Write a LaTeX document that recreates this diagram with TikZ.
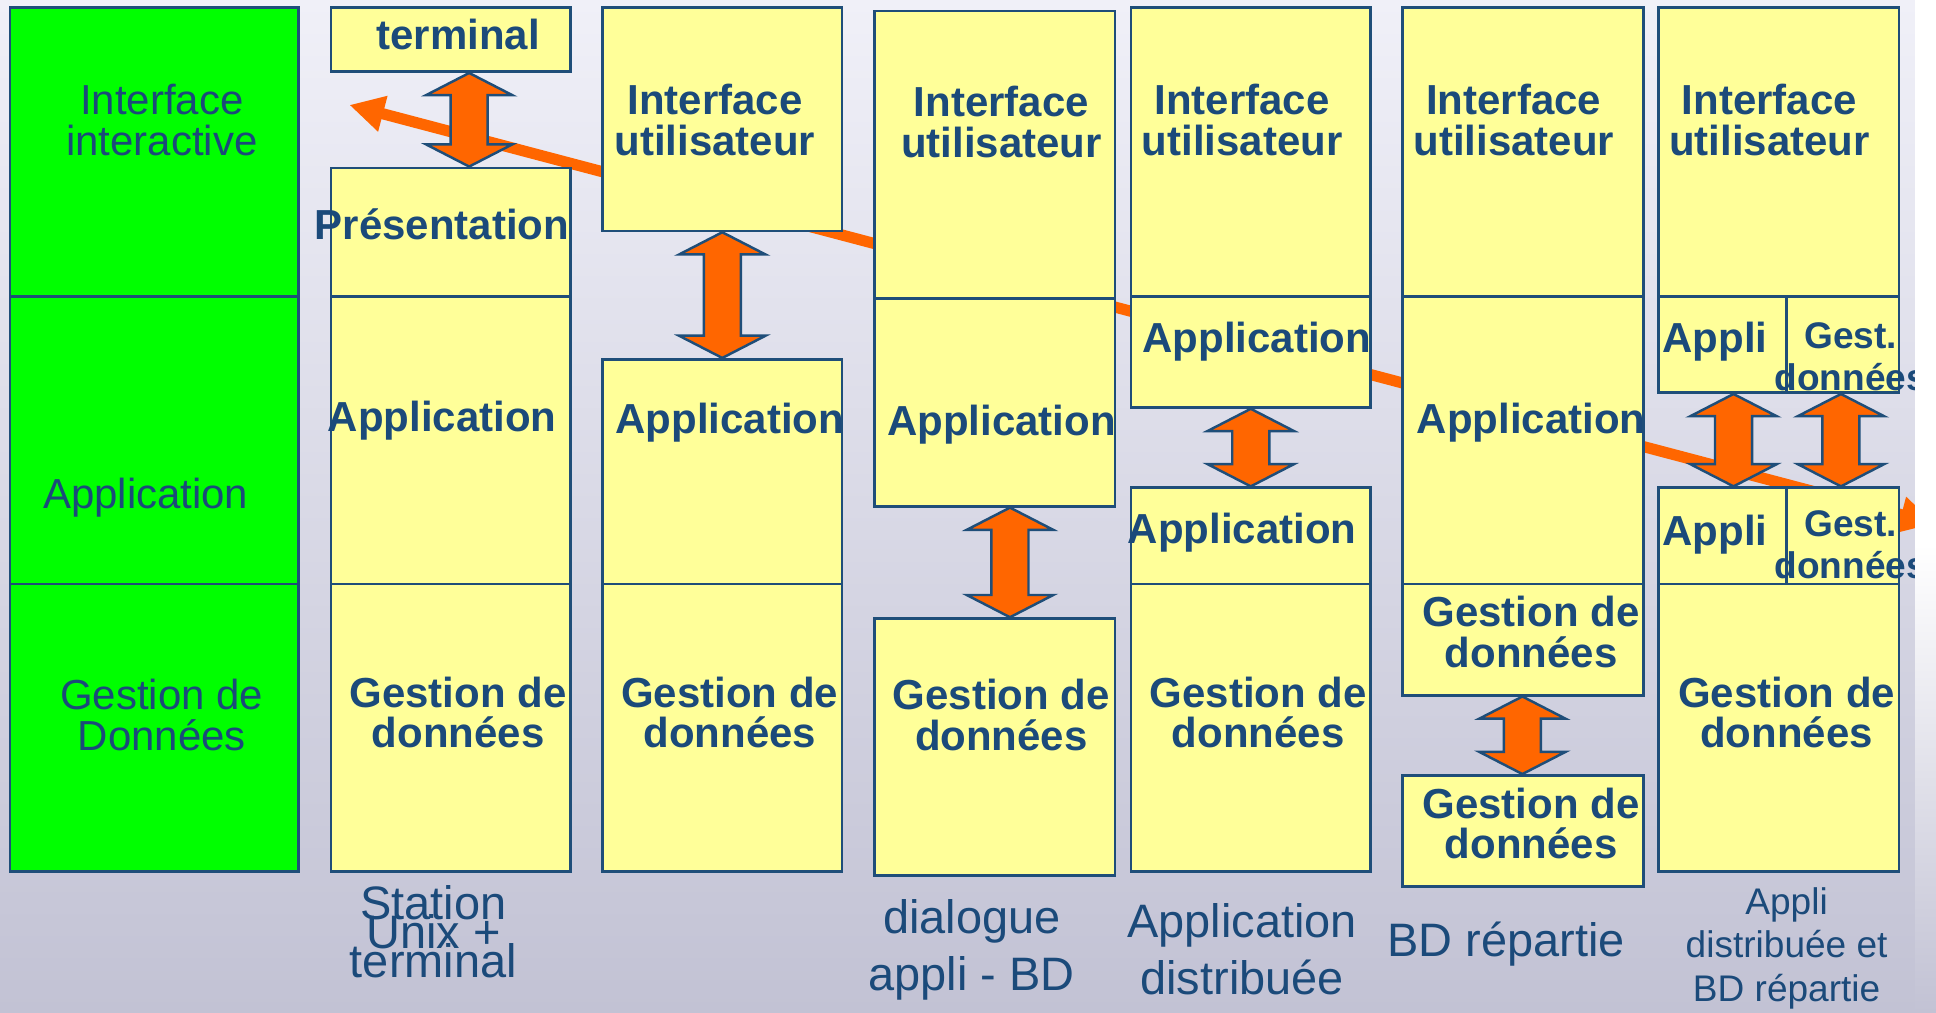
\documentclass[tikz,border=0pt]{standalone}
\usepackage{fontspec}
\setmainfont{Liberation Sans}
\usetikzlibrary{arrows.meta,fit,calc}

\definecolor{navy}{RGB}{27,74,122}
\definecolor{edge}{RGB}{31,78,121}
\definecolor{pale}{RGB}{255,255,153}
\definecolor{vivid}{RGB}{0,255,0}
\definecolor{flame}{RGB}{255,102,0}
\definecolor{bgtop}{RGB}{240,240,248}
\definecolor{bgbot}{RGB}{194,194,212}

% vertical double block arrow between two anchors, at abscissa #1
\newcommand{\vbiarrow}[3]{%
  \draw[biarrow] let \p1=(#2), \p2=(#3) in
    (#1pt,\y1) -- ({#1pt+35pt},{\y1-18pt}) -- ({#1pt+15pt},{\y1-18pt})
    -- ({#1pt+15pt},{\y2+18pt}) -- ({#1pt+35pt},{\y2+18pt}) -- (#1pt,\y2)
    -- ({#1pt-35pt},{\y2+18pt}) -- ({#1pt-15pt},{\y2+18pt})
    -- ({#1pt-15pt},{\y1-18pt}) -- ({#1pt-35pt},{\y1-18pt}) -- cycle;}

% lines allowed to overlap each other
\newcommand{\squeezedlines}{\fontsize{38}{23.5}\selectfont
  \lineskiplimit=-100pt\relax\lineskip=0pt\relax}

\tikzset{
  layer/.style={draw=edge, line width=2.2pt, fill=pale, inner sep=0pt},
  tier/.style={draw=edge, line width=2.2pt, fill=vivid, inner sep=0pt},
  biarrow/.style={draw=edge, line width=2pt, fill=flame, line join=miter},
  bold/.style={text=navy, inner sep=0pt, align=center,
    font=\bfseries\fontsize{34}{33}\selectfont},
  plain/.style={text=navy, inner sep=0pt, align=center,
    font=\fontsize{34}{33}\selectfont},
  small/.style={text=navy, inner sep=0pt, align=center,
    font=\bfseries\fontsize{30}{34}\selectfont},
  caption/.style={text=navy, inner sep=0pt, align=center,
    font=\fontsize{38}{46}\selectfont},
  tight/.style={text=navy, inner sep=0pt, align=center,
    font=\squeezedlines},
  note/.style={text=navy, inner sep=0pt, align=center,
    font=\fontsize{30}{35.5}\selectfont},
  flow/.style={draw=flame, line width=9pt,
    {Triangle[width=28pt,length=28pt]}-{Triangle[width=28pt,length=28pt]}}
}

\begin{document}
\begin{tikzpicture}[x=1pt,y=-1pt]
\useasboundingbox (0,0) rectangle (1568,820);
\fill[top color=bgtop, bottom color=bgbot] (0,0) rectangle (1568,820);

\begin{scope}
\clip (0,0) rectangle (1551,820);

% long two-headed arrow running behind the stacks
\coordinate (flowL) at (283,85);
\coordinate (flowR) at (1567,424);
\draw[flow] (flowR) -- (flowL);

% generic three tiers
\node[tier, fit={(8,6) (242,240)}] (g1) {};
\node[tier, fit={(8,240) (242,473)}] (g2) {};
\node[tier, fit={(8,473) (242,706)}] (g3) {};
\node[plain] (g1t) at (131,97) {Interface\\interactive};
\node[plain] (g2t) at (118,403) {Application};
\node[plain] (g3t) at (131,579) {Gestion de\\Donn\'ees};

% Unix station + terminal
\node[layer, fit={(268,6) (462,58)}] (a0) {};
\node[layer, fit={(268,136) (462,240)}] (a1) {};
\node[layer, fit={(268,240) (462,473)}] (a2) {};
\node[layer, fit={(268,473) (462,706)}] (a3) {};
\node[bold] (a0t) at (371,28) {terminal};
\node[bold] (a1t) at (358,182) {Pr\'esentation};
\node[bold] (a2t) at (358,341) {Application};
\node[bold] (a3t) at (371,577) {Gestion de\\donn\'ees};
\vbiarrow{380}{a0.south}{a1.north}

% user interface on its own
\node[layer, fit={(488,6) (682,187)}] (b1) {};
\node[layer, fit={(488,291) (682,473)}] (b2) {};
\node[layer, fit={(488,473) (682,706)}] (b3) {};
\node[bold] (b1t) at (579,97) {Interface\\utilisateur};
\node[bold] (b2t) at (591,342) {Application};
\node[bold] (b3t) at (591,577) {Gestion de\\donn\'ees};
\vbiarrow{585}{b1.south}{b2.north}

% dialogue appli - BD
\node[layer, fit={(708,9) (903,242)}] (c1) {};
\node[layer, fit={(708,242) (903,410)}] (c2) {};
\node[layer, fit={(708,501) (903,709)}] (c3) {};
\node[bold] (c1t) at (811,99) {Interface\\utilisateur};
\node[bold] (c2t) at (811,344) {Application};
\node[bold] (c3t) at (811,579) {Gestion de\\donn\'ees};
\vbiarrow{818}{c2.south}{c3.north}

% distributed application
\node[layer, fit={(916,6) (1110,240)}] (d1) {};
\node[layer, fit={(916,240) (1110,330)}] (d2) {};
\node[layer, fit={(916,395) (1110,473)}] (d3) {};
\node[layer, fit={(916,473) (1110,706)}] (d4) {};
\node[bold] (d1t) at (1006,97) {Interface\\utilisateur};
\node[bold] (d2t) at (1018,277) {Application};
\node[bold] (d3t) at (1006,431) {Application};
\node[bold] (d4t) at (1019,577) {Gestion de\\donn\'ees};
\vbiarrow{1013}{d2.south}{d3.north}

% distributed database
\node[layer, fit={(1136,6) (1331,240)}] (e1) {};
\node[layer, fit={(1136,240) (1331,473)}] (e2) {};
\node[layer, fit={(1136,473) (1331,563)}] (e3) {};
\node[layer, fit={(1136,628) (1331,718)}] (e4) {};
\node[bold] (e1t) at (1226,97) {Interface\\utilisateur};
\node[bold] (e2t) at (1240,342) {Application};
\node[bold] (e3t) at (1240,512) {Gestion de\\donn\'ees};
\node[bold] (e4t) at (1240,667) {Gestion de\\donn\'ees};
\vbiarrow{1233}{e3.south}{e4.north}

% distributed application and database
\node[layer, fit={(1343,6) (1538,240)}] (f1) {};
\node[layer, fit={(1343,240) (1447,318)}] (f2) {};
\node[layer, fit={(1447,240) (1538,318)}] (f3) {};
\node[layer, fit={(1343,395) (1447,473)}] (f4) {};
\node[layer, fit={(1447,395) (1538,473)}] (f5) {};
\node[layer, fit={(1343,473) (1538,706)}] (f6) {};
\node[bold] (f1t) at (1433,97) {Interface\\utilisateur};
\node[bold] (f2t) at (1389,277) {Appli};
\node[small] (f3t) at (1499,289) {Gest.\\donn\'ees};
\node[bold] (f4t) at (1389,433) {Appli};
\node[small] (f5t) at (1499,441) {Gest.\\donn\'ees};
\node[bold] (f6t) at (1447,577) {Gestion de\\donn\'ees};
\vbiarrow{1404}{f2.south}{f4.north}
\vbiarrow{1491}{f3.south}{f5.north}

% captions
\node[tight] (cap1) at (351,755) {Station\\Unix +\\terminal};
\node[caption] (cap3) at (787,769) {dialogue\\appli - BD};
\node[caption] (cap4) at (1006,769) {Application\\distribu\'ee};
\node[caption] (cap5) at (1220,765) {BD r\'epartie};
\node[note] (cap6) at (1447,768) {Appli\\distribu\'ee et\\BD r\'epartie};
\end{scope}

% blank margin on the right edge
\fill[white] (1551,0) rectangle (1568,440);
\fill[top color=white, bottom color=bgbot] (1551,440) rectangle (1568,820);
\end{tikzpicture}
\end{document}
